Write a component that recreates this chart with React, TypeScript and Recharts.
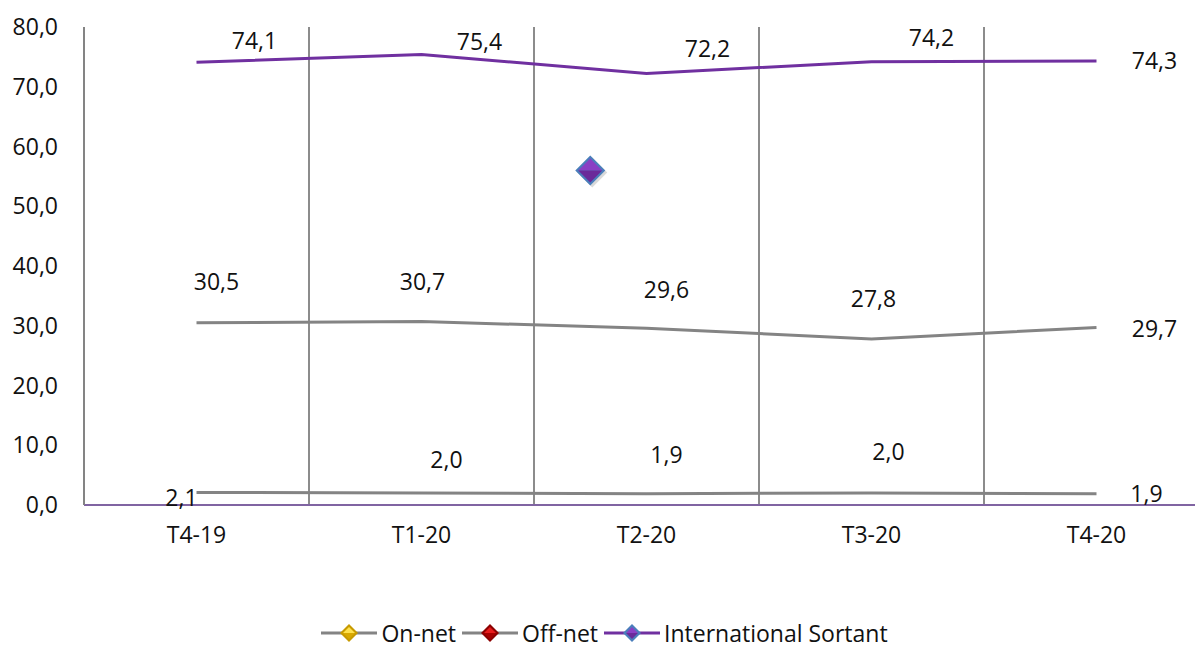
import React from 'react';
import { LineChart, Line, XAxis, YAxis, ReferenceLine, ReferenceDot, LabelList, Legend } from 'recharts';

const quarters = ['T4-19', 'T1-20', 'T2-20', 'T3-20', 'T4-20'];
const onNet = [2.1, 2.0, 1.9, 2.0, 1.9];
const offNet = [30.5, 30.7, 29.6, 27.8, 29.7];
const intlSortant = [74.1, 75.4, 72.2, 74.2, 74.3];
const yTicks = [0, 10, 20, 30, 40, 50, 60, 70, 80];
const seriesNames = ['On-net', 'Off-net', 'International Sortant'];

// label nudges (dx, dy) per point, the original has hand placed labels
const onNetLabelOffsets = [[-15, 5], [25, -34], [20, -40], [17, -42], [50, -1]];
const offNetLabelOffsets = [[20, -42], [1, -41], [20, -39], [2, -41], [58, 0]];
const intlLabelOffsets = [[58, -22], [58, -13], [61, -26], [60, -25], [58, -1]];

const FONT = '"Open Sans", sans-serif';
const GREY = '#848484';
const PURPLE = '#7030A0';

const data = quarters.map((q, i) => ({
  idx: i,
  quarter: q,
  onNet: onNet[i],
  offNet: offNet[i],
  intl: intlSortant[i],
}));

const fmt = (v: number) => v.toFixed(1).replace('.', ',');

const makeLabel = (offsets: number[][]) => (props: any) => {
  const { x, y, value, index } = props;
  const [dx, dy] = offsets[index] || [0, 0];
  return (
    <text
      x={x + dx}
      y={y + dy}
      textAnchor="middle"
      dominantBaseline="central"
      fontFamily={FONT}
      fontSize={23}
      fill="#111"
    >
      {fmt(value)}
    </text>
  );
};

const markerColors: Record<string, { top: string; bottom: string; stroke: string }> = {
  'On-net': { top: '#ffe14d', bottom: '#d9a800', stroke: '#c79a00' },
  'Off-net': { top: '#e81c1c', bottom: '#a80000', stroke: '#8c0000' },
  'International Sortant': { top: '#8a3fc4', bottom: '#6a2a9a', stroke: '#4a7ebb' },
};

const Diamond = ({ cx, cy, r, name }: { cx: number; cy: number; r: number; name: string }) => {
  const c = markerColors[name];
  return (
    <g>
      <polygon points={`${cx},${cy - r} ${cx + r},${cy} ${cx},${cy + r} ${cx - r},${cy}`} fill={c.stroke} />
      <polygon points={`${cx},${cy - r + 3} ${cx + r - 3},${cy} ${cx - r + 3},${cy}`} fill={c.top} />
      <polygon points={`${cx - r + 3},${cy} ${cx + r - 3},${cy} ${cx},${cy + r - 3}`} fill={c.bottom} />
    </g>
  );
};

const LegendContent = (props: any) => {
  const items = [...(props.payload || [])].sort(
    (a: any, b: any) => seriesNames.indexOf(a.value) - seriesNames.indexOf(b.value)
  );
  return (
    <div style={{ display: 'flex', justifyContent: 'center', alignItems: 'center', fontFamily: FONT, fontSize: 23, color: '#111' }}>
      {items.map((entry: any) => (
        <div key={entry.value} style={{ display: 'flex', alignItems: 'center', marginRight: 6 }}>
          <svg width={56} height={20} style={{ marginRight: 4 }}>
            <line x1={0} y1={10} x2={56} y2={10} stroke={entry.color} strokeWidth={3} />
            <Diamond cx={28} cy={10} r={9} name={entry.value} />
          </svg>
          <span style={{ whiteSpace: 'nowrap' }}>{entry.value}</span>
        </div>
      ))}
    </div>
  );
};

const StrayMarker = (props: any) => (
  <g>
    <polygon
      points={`${props.cx + 2},${props.cy - 13} ${props.cx + 17},${props.cy + 2} ${props.cx + 2},${props.cy + 17} ${props.cx - 13},${props.cy + 2}`}
      fill="#000"
      opacity={0.15}
    />
    <Diamond cx={props.cx} cy={props.cy} r={15} name="International Sortant" />
  </g>
);

export default function App() {
  return (
    <div style={{ position: 'fixed', left: 0, top: 0, width: 1195, height: 651, overflow: 'hidden', background: '#fff' }}>
      <LineChart width={1230} height={651} data={data} margin={{ top: 27, right: 21, left: 0, bottom: 86 }}>
        <XAxis
          type="number"
          dataKey="idx"
          domain={[-0.5, 4.5]}
          ticks={[0, 1, 2, 3, 4]}
          tickFormatter={(i: number) => quarters[i]}
          height={60}
          tickSize={0}
          tickMargin={22}
          axisLine={{ stroke: '#8064A2', strokeWidth: 2 }}
          tick={{ fill: '#111', fontSize: 23, fontFamily: FONT }}
        />
        <YAxis
          domain={[0, 80]}
          ticks={yTicks}
          width={84}
          tickSize={0}
          tickMargin={26}
          tickFormatter={(v: number) => fmt(v)}
          axisLine={{ stroke: GREY, strokeWidth: 2 }}
          tick={{ fill: '#111', fontSize: 23, fontFamily: FONT }}
        />
        {[0.5, 1.5, 2.5, 3.5].map((x) => (
          <ReferenceLine key={x} x={x} stroke="#8c8c8c" strokeWidth={2} />
        ))}
        <ReferenceDot x={1.75} y={56} shape={StrayMarker} />
        <Legend
          verticalAlign="middle"
          align="center"
          wrapperStyle={{ top: 617, left: 20, width: 1175 }}
          content={LegendContent}
        />
        <Line name="On-net" dataKey="onNet" stroke={GREY} strokeWidth={3} dot={false} isAnimationActive={false}>
          <LabelList dataKey="onNet" content={makeLabel(onNetLabelOffsets)} />
        </Line>
        <Line name="Off-net" dataKey="offNet" stroke={GREY} strokeWidth={3} dot={false} isAnimationActive={false}>
          <LabelList dataKey="offNet" content={makeLabel(offNetLabelOffsets)} />
        </Line>
        <Line name="International Sortant" dataKey="intl" stroke={PURPLE} strokeWidth={3} dot={false} isAnimationActive={false}>
          <LabelList dataKey="intl" content={makeLabel(intlLabelOffsets)} />
        </Line>
      </LineChart>
    </div>
  );
}
